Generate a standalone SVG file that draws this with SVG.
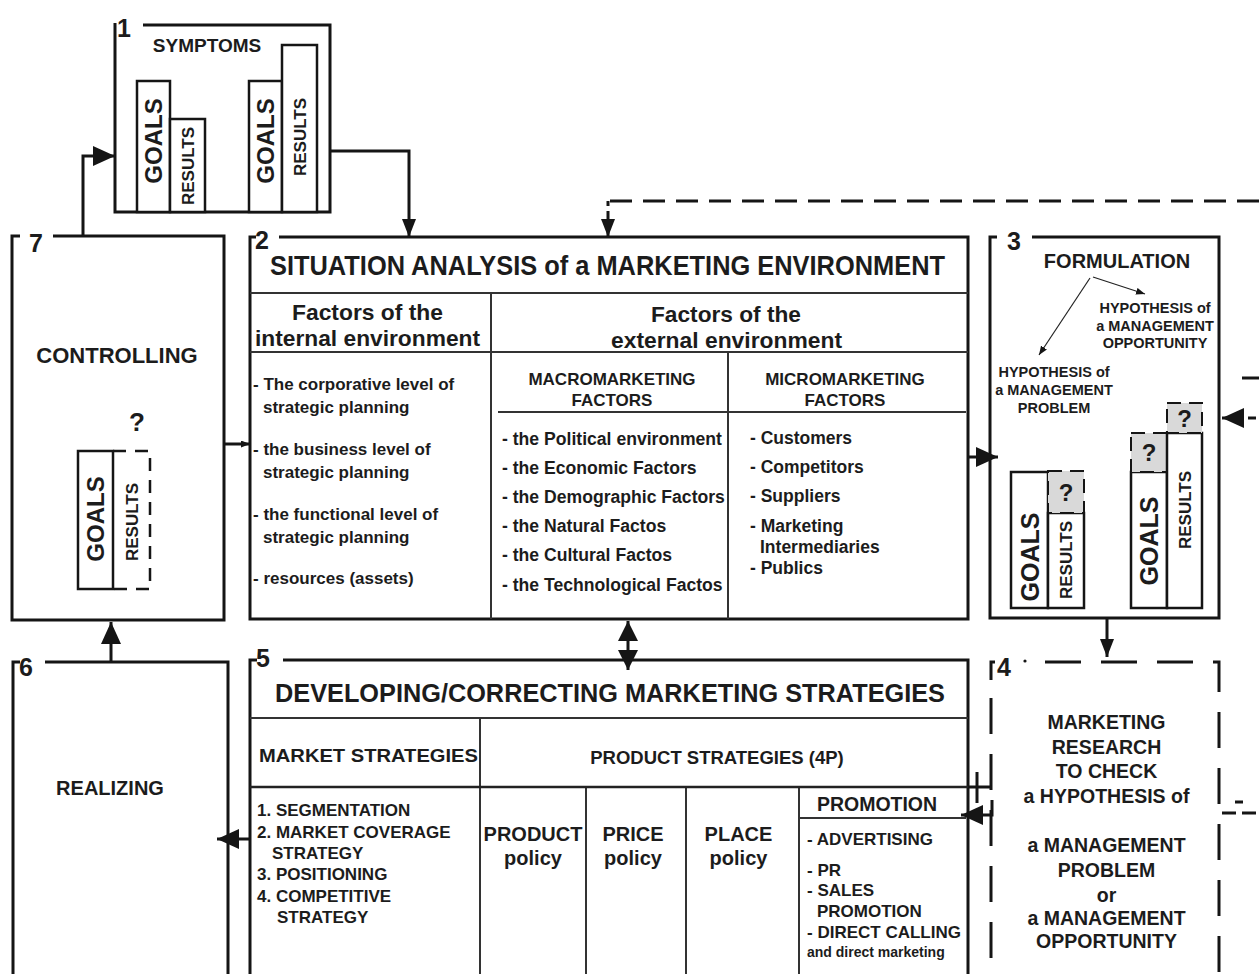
<svg xmlns="http://www.w3.org/2000/svg" width="1259" height="974" viewBox="0 0 1259 974">
<style>
.b{fill:none;stroke:#151515;stroke-width:3}
.bar{fill:#fff;stroke:#151515;stroke-width:2.5}
.q{fill:#d9d9d9;stroke:#151515;stroke-width:2;stroke-dasharray:14 8}
.ln{fill:none;stroke:#333;stroke-width:2}
.c{fill:none;stroke:#151515;stroke-width:3}
.cd{fill:none;stroke:#151515;stroke-width:3;stroke-dasharray:22 11}
.d4{fill:none;stroke:#151515;stroke-width:3;stroke-dasharray:36 20}
.thin{fill:none;stroke:#222;stroke-width:1.2}
text{font-family:"Liberation Sans",Arial,sans-serif;font-weight:bold;fill:#1c1c1c}
.m{text-anchor:middle}
.n{font-size:25px}
.s17{font-size:17px}
</style>
<defs>
<marker id="ah" markerUnits="userSpaceOnUse" markerWidth="22" markerHeight="20" refX="22" refY="10" orient="auto"><path d="M0,0 L22,10 L0,20 z" fill="#151515"/></marker>
<marker id="am" markerUnits="userSpaceOnUse" markerWidth="18" markerHeight="14" refX="18" refY="7" orient="auto"><path d="M0,0 L18,7 L0,14 z" fill="#151515"/></marker>
<marker id="as" markerUnits="userSpaceOnUse" markerWidth="9" markerHeight="7" refX="9" refY="3.5" orient="auto"><path d="M0,0 L9,3.5 L0,7 z" fill="#151515"/></marker>
<marker id="ad" markerUnits="userSpaceOnUse" markerWidth="20" markerHeight="20" refX="20" refY="10" orient="auto-start-reverse"><path d="M0,0 L20,10 L0,20 z" fill="#151515"/></marker>
</defs>

<g id="node1">
<path class="b" d="M115,23 V212 H330 V25 H143"/>
<text x="117" y="37" class="n">1</text>
<text x="207" y="52" class="m" font-size="19">SYMPTOMS</text>
<rect class="bar" x="137" y="81" width="33" height="131"/>
<rect class="bar" x="170" y="119" width="35" height="93"/>
<rect class="bar" x="249" y="81" width="33" height="131"/>
<rect class="bar" x="282" y="45" width="35" height="167"/>
<text class="m" font-size="24" transform="translate(153.5,141) rotate(-90)" y="8.6">GOALS</text>
<text class="m s17" transform="translate(187.5,166) rotate(-90)" y="6.1">RESULTS</text>
<text class="m" font-size="24" transform="translate(265.5,141) rotate(-90)" y="8.6">GOALS</text>
<text class="m s17" transform="translate(299.5,137) rotate(-90)" y="6.1">RESULTS</text>
</g>

<g id="node7">
<path class="b" d="M20,236 H12 V620 H224 V236 H53"/>
<text x="29" y="252" class="n" font-size="26">7</text>
<text x="117" y="363" class="m" font-size="22">CONTROLLING</text>
<text x="137" y="431" class="m" font-size="26">?</text>
<rect class="bar" x="78" y="451" width="35" height="138"/>
<path d="M113,451 H150 V589 H113" fill="none" stroke="#151515" stroke-width="2.5" stroke-dasharray="13 9"/>
<text class="m" font-size="24" transform="translate(95.5,519) rotate(-90)" y="8.6">GOALS</text>
<text class="m s17" transform="translate(131.5,522) rotate(-90)" y="6.1">RESULTS</text>
</g>

<g id="node2">
<path class="b" d="M256,237 H250 V619 H968 V237 H279"/>
<text x="255" y="249" class="n">2</text>
<text x="607.5" y="275" class="m" font-size="28" textLength="675" lengthAdjust="spacingAndGlyphs">SITUATION ANALYSIS of a MARKETING ENVIRONMENT</text>
<path class="ln" d="M250,293 H968 M491,293 V619 M250,352 H968 M728,352 V619 M498,412 H966"/>
<text x="367.5" y="320" class="m" font-size="22" textLength="151" lengthAdjust="spacingAndGlyphs">Factors of the</text>
<text x="367.5" y="346" class="m" font-size="22" textLength="225" lengthAdjust="spacingAndGlyphs">internal environment</text>
<text x="726" y="322" class="m" font-size="22" textLength="150" lengthAdjust="spacingAndGlyphs">Factors of the</text>
<text x="726.5" y="348" class="m" font-size="22" textLength="231" lengthAdjust="spacingAndGlyphs">external environment</text>
<text x="612" y="385" class="m" font-size="17">MACROMARKETING</text>
<text x="612" y="406" class="m" font-size="17">FACTORS</text>
<text x="845" y="385" class="m" font-size="17">MICROMARKETING</text>
<text x="845" y="406" class="m" font-size="17">FACTORS</text>
<g font-size="17">
<text x="253" y="390">- The corporative level of</text>
<text x="263" y="413">strategic planning</text>
<text x="253" y="455">- the business level of</text>
<text x="263" y="478">strategic planning</text>
<text x="253" y="520">- the functional level of</text>
<text x="263" y="543">strategic planning</text>
<text x="253" y="584">- resources (assets)</text>
</g>
<g font-size="17.6">
<text x="502" y="445">- the Political environment</text>
<text x="502" y="474">- the Economic Factors</text>
<text x="502" y="503">- the Demographic Factors</text>
<text x="502" y="532">- the Natural Factos</text>
<text x="502" y="561">- the Cultural Factos</text>
<text x="502" y="591">- the Technological Factos</text>
</g>
<g font-size="17.5">
<text x="750" y="444">- Customers</text>
<text x="750" y="473">- Competitors</text>
<text x="750" y="502">- Suppliers</text>
<text x="750" y="532">- Marketing</text>
<text x="760" y="553">Intermediaries</text>
<text x="750" y="574">- Publics</text>
</g>
</g>

<g id="node3">
<path class="b" d="M997,237 H990 V618 H1219 V237 H1032"/>
<text x="1007" y="250" class="n">3</text>
<text x="1117" y="268" class="m" font-size="20">FORMULATION</text>
<text x="1155" y="313" class="m" font-size="14.5">HYPOTHESIS of</text>
<text x="1155" y="331" class="m" font-size="14.5">a MANAGEMENT</text>
<text x="1155" y="348" class="m" font-size="14.5">OPPORTUNITY</text>
<text x="1054" y="377" class="m" font-size="14.5">HYPOTHESIS of</text>
<text x="1054" y="395" class="m" font-size="14.5">a MANAGEMENT</text>
<text x="1054" y="413" class="m" font-size="14.5">PROBLEM</text>
<rect class="bar" x="1011" y="472" width="37" height="136"/>
<rect class="bar" x="1048" y="513" width="36" height="95"/>
<rect class="q" x="1048" y="471" width="36" height="42"/>
<rect class="bar" x="1131" y="472" width="36" height="136"/>
<rect class="q" x="1131" y="433" width="36" height="39"/>
<rect class="bar" x="1167" y="433" width="35" height="175"/>
<rect class="q" x="1167" y="403" width="35" height="30"/>
<text x="1066" y="501" class="m" font-size="24">?</text>
<text x="1149" y="461" class="m" font-size="24">?</text>
<text x="1184.5" y="427" class="m" font-size="24">?</text>
<text class="m" font-size="25" transform="translate(1029.5,557) rotate(-90)" y="9">GOALS</text>
<text class="m s17" transform="translate(1066,560) rotate(-90)" y="6.1">RESULTS</text>
<text class="m" font-size="25" transform="translate(1149,541) rotate(-90)" y="9">GOALS</text>
<text class="m s17" transform="translate(1184.5,510) rotate(-90)" y="6.1">RESULTS</text>
</g>

<g id="node4">
<path class="b" d="M995,662 H991 V680"/>
<path class="d4" d="M991,698 V974"/>
<path class="d4" d="M1045,662 H1219 V974"/>
<text x="997" y="676" class="n" font-size="22">4</text>
<circle cx="1025" cy="661" r="1.6" fill="#151515"/>
<g font-size="19.5" class="m">
<text x="1106.5" y="729" class="m">MARKETING</text>
<text x="1106.5" y="754" class="m">RESEARCH</text>
<text x="1106.5" y="778" class="m">TO CHECK</text>
<text x="1106.5" y="803" class="m">a HYPOTHESIS of</text>
<text x="1106.5" y="852" class="m">a MANAGEMENT</text>
<text x="1106.5" y="877" class="m">PROBLEM</text>
<text x="1106.5" y="902" class="m">or</text>
<text x="1106.5" y="925" class="m">a MANAGEMENT</text>
<text x="1106.5" y="948" class="m">OPPORTUNITY</text>
</g>
</g>

<g id="node5">
<path class="b" d="M257,660 H250 V976 M283,660 H968 V976"/>
<text x="256" y="667" class="n">5</text>
<text x="275" y="702" font-size="25" textLength="670" lengthAdjust="spacingAndGlyphs">DEVELOPING/CORRECTING MARKETING STRATEGIES</text>
<path class="ln" d="M250,718 H968 M480,718 V976 M586,787 V976 M686,787 V976 M799,787 V976 M799,818 H966"/>
<path d="M250,787 H968" fill="none" stroke="#222" stroke-width="2.6"/>
<text x="259" y="762" font-size="19" textLength="219" lengthAdjust="spacingAndGlyphs">MARKET STRATEGIES</text>
<text x="717" y="764" class="m" font-size="18.5">PRODUCT STRATEGIES (4P)</text>
<g font-size="17">
<text x="257" y="816">1. SEGMENTATION</text>
<text x="257" y="838">2. MARKET COVERAGE</text>
<text x="272" y="859">STRATEGY</text>
<text x="257" y="880">3. POSITIONING</text>
<text x="257" y="902">4. COMPETITIVE</text>
<text x="277" y="923">STRATEGY</text>
</g>
<text x="533" y="841" class="m" font-size="20">PRODUCT</text>
<text x="533" y="865" class="m" font-size="20">policy</text>
<text x="633" y="841" class="m" font-size="20">PRICE</text>
<text x="633" y="865" class="m" font-size="20">policy</text>
<text x="738.5" y="841" class="m" font-size="20">PLACE</text>
<text x="738.5" y="865" class="m" font-size="20">policy</text>
<text x="877" y="811" class="m" font-size="19.5">PROMOTION</text>
<g font-size="17">
<text x="807" y="845">- ADVERTISING</text>
<text x="807" y="876">- PR</text>
<text x="807" y="896">- SALES</text>
<text x="817" y="917">PROMOTION</text>
<text x="807" y="938">- DIRECT CALLING</text>
</g>
<text x="807" y="957" font-size="14">and direct marketing</text>
</g>

<g id="node6">
<path class="b" d="M20,662 H13 V976 M45,662 H228 V976"/>
<text x="19" y="676" class="n" font-size="24">6</text>
<text x="110" y="795" class="m" font-size="20">REALIZING</text>
</g>

<g id="connectors">
<path class="c" d="M83,236 V156 H115" marker-end="url(#ah)"/>
<path class="c" d="M330,151 H409 V237" stroke-width="2" marker-end="url(#am)"/>
<path class="cd" d="M1259,201 H608"/>
<path class="c" d="M608,201 V206"/>
<path class="c" d="M608,211 V237" marker-end="url(#am)"/>
<path class="c" d="M225,444 H250" stroke-width="1.5" marker-end="url(#as)"/>
<path class="c" d="M968,457 H998" marker-end="url(#ah)"/>
<path class="c" d="M1107,618 V657" stroke-width="2" marker-end="url(#am)"/>
<path class="c" d="M628,621 V670" marker-start="url(#ad)" marker-end="url(#ad)"/>
<path class="c" d="M111,662 V622" marker-end="url(#ah)"/>
<path class="c" d="M250,839 H217" marker-end="url(#ah)"/>
<path class="c" d="M992,800 V815 H961" marker-end="url(#ah)"/>
<path class="c" d="M968,787 H992"/>
<path class="c" d="M977,772 V803" stroke-width="5"/>
<path class="thin" d="M1090,278 L1039,355" marker-end="url(#as)"/>
<path class="thin" d="M1093,277 L1145,294" marker-end="url(#as)"/>
<path class="c" d="M1244,418 H1222" marker-end="url(#ah)"/>
<path class="c" d="M1248,418 H1256"/>
<path class="c" d="M1242,378 H1259" stroke-width="3.5"/>
<path class="c" d="M1222,813 H1236 M1242,813 H1256 M1235,802 H1243" stroke-width="2"/>
</g>
</svg>
